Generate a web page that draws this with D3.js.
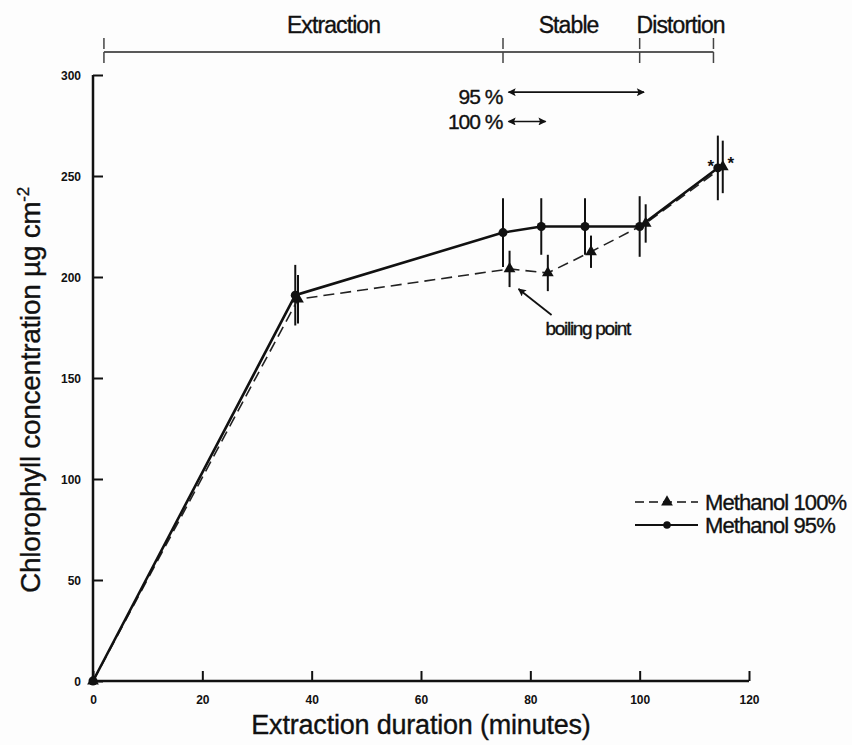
<!DOCTYPE html>
<html>
<head>
<meta charset="utf-8">
<script src="https://cdn.jsdelivr.net/npm/d3@7"></script>
<style>
	body { margin: 0; background: #fdfdfd; }
	text { font-family: "Liberation Sans", Arial, sans-serif; fill: #111; }
	.big { stroke: #111; stroke-width: 0.35px; }
</style>
</head>
<body>
<script>
// datos
var times95 = [0, 37, 75, 82, 90, 100, 114.3]
var values95 = [0, 191, 222, 225, 225, 225, 254]
var errors95 = [0, 15, 17, 14, 14, 15, 16]

var times100 = [0, 37.5, 76.2, 83.2, 91.1, 101.1, 115.2]
var values100 = [0, 189, 204, 202, 212.5, 226.5, 254.5]
var errors100 = [0, 12, 9, 9, 8, 9.5, 13]

var xTicks = [0, 20, 40, 60, 80, 100, 120]
var yTicks = [0, 50, 100, 150, 200, 250, 300]

// fases arriba del grafico
var phaseBounds = [2, 75, 100, 113.5]
var phaseNames = ["Extraction", "Stable", "Distortion"]
var phaseCenters = [44, 87, 107.5]

// flechas de rango estable
var rangeLabels = ["95 %", "100 %"]
var rangeStart = [76, 76]
var rangeEnd = [100.8, 82.8]
var rangeLevel = [291.5, 277]

var seriesNames = ["Methanol 100%", "Methanol 95%"]

var chart = {}
chart.w = 852
chart.h = 745

chart.x = d3.scaleLinear().domain([0, 120]).range([93, 749])
chart.y = d3.scaleLinear().domain([0, 300]).range([681, 75])

chart.svg = d3.select("body").append("svg")
	.attr("width", chart.w)
	.attr("height", chart.h)

var svg = chart.svg

// marcador de flecha
var defs = svg.append("defs")
defs.append("marker")
	.attr("id", "head")
	.attr("viewBox", "0 0 10 10")
	.attr("refX", 9).attr("refY", 5)
	.attr("markerWidth", 12).attr("markerHeight", 8)
	.attr("markerUnits", "userSpaceOnUse")
	.attr("orient", "auto-start-reverse")
	.append("path")
	.attr("d", "M0,0 L10,5 L0,10 L2,5 Z")
	.attr("fill", "#111")

// ejes
var xAxis = d3.axisBottom(chart.x).tickValues(xTicks).tickSize(-10).tickSizeOuter(0).tickPadding(14)
var yAxis = d3.axisLeft(chart.y).tickValues(yTicks).tickSize(-10).tickSizeOuter(0).tickPadding(12)

var gx = svg.append("g").attr("transform", "translate(0," + chart.y(0) + ")").call(xAxis)
var gy = svg.append("g").attr("transform", "translate(" + chart.x(0) + ",0)").call(yAxis)

gx.select(".domain").remove()
gy.select(".domain").remove()
svg.append("line")
	.attr("x1", chart.x(0)).attr("x2", chart.x(120))
	.attr("y1", chart.y(0)).attr("y2", chart.y(0))
	.attr("stroke", "#111").attr("stroke-width", 2.5)
svg.append("line")
	.attr("x1", chart.x(0)).attr("x2", chart.x(0))
	.attr("y1", chart.y(0)).attr("y2", chart.y(300))
	.attr("stroke", "#111").attr("stroke-width", 2.5)

;[gx, gy].forEach(function(g) {
	g.selectAll(".tick line").attr("stroke", "#111").attr("stroke-width", 2)
	g.selectAll(".tick text")
		.style("font-size", "12px")
		.style("font-weight", "bold")
		.attr("fill", "#111")
})
gy.selectAll(".tick text").attr("dy", "0.35em")

// titulos de los ejes
svg.append("text")
	.attr("class", "big")
	.attr("x", (chart.x(0) + chart.x(120)) / 2)
	.attr("y", 734)
	.attr("text-anchor", "middle")
	.style("font-size", "27px")
	.style("letter-spacing", "-0.2px")
	.text("Extraction duration (minutes)")

var yTitle = svg.append("text")
	.attr("class", "big")
	.attr("transform", "translate(40,390) rotate(-90)")
	.attr("text-anchor", "middle")
	.style("font-size", "28px")
	.style("letter-spacing", "-0.3px")
yTitle.append("tspan").text("Chlorophyll concentration µg cm")
yTitle.append("tspan").attr("dy", -11).style("font-size", "17px").text("-2")

// barra de fases
var barY = 52
svg.append("line")
	.attr("x1", chart.x(phaseBounds[0])).attr("x2", chart.x(phaseBounds[phaseBounds.length - 1]))
	.attr("y1", barY).attr("y2", barY)
	.attr("stroke", "#222").attr("stroke-width", 1.5)
svg.selectAll(".phaseTick")
	.data(phaseBounds)
	.enter()
	.append("line")
	.attr("x1", function(d) { return chart.x(d) })
	.attr("x2", function(d) { return chart.x(d) })
	.attr("y1", barY - 14).attr("y2", barY + 14)
	.attr("stroke", "#444").attr("stroke-width", 1.5)
	.attr("stroke-dasharray", "11,3")
svg.selectAll(".phaseName")
	.data(phaseNames)
	.enter()
	.append("text")
	.attr("class", "big")
	.attr("x", function(d, i) { return chart.x(phaseCenters[i]) })
	.attr("y", 33)
	.attr("text-anchor", "middle")
	.style("font-size", "23px")
	.style("letter-spacing", "-0.9px")
	.text(function(d) { return d })

// flechas 95 % y 100 %
var rangeTextY = [104, 129]
rangeLabels.forEach(function(lab, i) {
	var yy = chart.y(rangeLevel[i])
	svg.append("line")
		.attr("x1", chart.x(rangeStart[i])).attr("x2", chart.x(rangeEnd[i]))
		.attr("y1", yy).attr("y2", yy)
		.attr("stroke", "#111").attr("stroke-width", 1.6)
		.attr("marker-start", "url(#head)")
		.attr("marker-end", "url(#head)")
	svg.append("text")
		.attr("class", "big")
		.attr("x", chart.x(rangeStart[i]) - 6)
		.attr("y", rangeTextY[i])
		.attr("text-anchor", "end")
		.style("font-size", "21px")
		.style("letter-spacing", "-1px")
		.text(lab)
})

// armar las series
function makeSeries(ts, vs, es) {
	return ts.map(function(t, i) { return { t: t, v: vs[i], e: es[i] } })
}
var s100 = makeSeries(times100, values100, errors100)
var s95 = makeSeries(times95, values95, errors95)

var line = d3.line()
	.x(function(d) { return chart.x(d.t) })
	.y(function(d) { return chart.y(d.v) })

// barras de error
function drawErrors(data, cls) {
	svg.selectAll("." + cls)
		.data(data.filter(function(d) { return d.e > 0 }))
		.enter()
		.append("line")
		.attr("class", cls)
		.attr("x1", function(d) { return chart.x(d.t) })
		.attr("x2", function(d) { return chart.x(d.t) })
		.attr("y1", function(d) { return chart.y(d.v - d.e) })
		.attr("y2", function(d) { return chart.y(d.v + d.e) })
		.attr("stroke", "#111").attr("stroke-width", 2)
}
drawErrors(s100, "err100")
drawErrors(s95, "err95")

svg.append("path")
	.datum(s100)
	.attr("d", line)
	.attr("fill", "none")
	.attr("stroke", "#222").attr("stroke-width", 1.6)
	.attr("stroke-dasharray", "11,6")

svg.append("path")
	.datum(s95)
	.attr("d", line)
	.attr("fill", "none")
	.attr("stroke", "#111").attr("stroke-width", 2.6)

var tri = d3.symbol().type(d3.symbolTriangle).size(60)

svg.selectAll(".tri")
	.data(s100)
	.enter()
	.append("path")
	.attr("class", "tri")
	.attr("d", tri)
	.attr("transform", function(d) { return "translate(" + chart.x(d.t) + "," + chart.y(d.v) + ")" })
	.attr("fill", "#111")

svg.selectAll(".dot")
	.data(s95)
	.enter()
	.append("circle")
	.attr("class", "dot")
	.attr("cx", function(d) { return chart.x(d.t) })
	.attr("cy", function(d) { return chart.y(d.v) })
	.attr("r", 4.5)
	.attr("fill", "#111")

// asteriscos en los ultimos puntos
var last95 = s95[s95.length - 1]
var last100 = s100[s100.length - 1]
svg.append("text")
	.attr("x", chart.x(last95.t) - 7)
	.attr("y", chart.y(last95.v) + 4)
	.attr("text-anchor", "middle")
	.style("font-size", "17px").style("font-weight", "bold")
	.text("*")
svg.append("text")
	.attr("x", chart.x(last100.t) + 8)
	.attr("y", chart.y(last100.v) + 2)
	.attr("text-anchor", "middle")
	.style("font-size", "17px").style("font-weight", "bold")
	.text("*")

// punto de ebullicion
var bp = s100[2]
svg.append("line")
	.attr("x1", chart.x(bp.t) + 42).attr("x2", chart.x(bp.t) + 9)
	.attr("y1", chart.y(bp.v) + 46).attr("y2", chart.y(bp.v) + 20)
	.attr("stroke", "#111").attr("stroke-width", 1.8)
	.attr("marker-end", "url(#head)")
svg.append("text")
	.attr("class", "big")
	.attr("x", chart.x(bp.t) + 36)
	.attr("y", chart.y(bp.v) + 66)
	.style("font-size", "19px")
	.style("letter-spacing", "-1.3px")
	.text("boiling point")

// leyenda
var legY = [502, 525]
var leg = svg.selectAll(".leg")
	.data(seriesNames)
	.enter()
	.append("g")
	.attr("transform", function(d, i) { return "translate(0," + legY[i] + ")" })
leg.append("line")
	.attr("x1", 635).attr("x2", 698)
	.attr("stroke", "#111")
	.attr("stroke-width", function(d, i) { return i == 0 ? 1.6 : 2 })
	.attr("stroke-dasharray", function(d, i) { return i == 0 ? "9,5" : null })
leg.append("path")
	.attr("d", function(d, i) {
		return i == 0 ? tri() : d3.symbol().type(d3.symbolCircle).size(45)()
	})
	.attr("transform", "translate(667,0)")
	.attr("fill", "#111")
leg.append("text")
	.attr("class", "big")
	.attr("x", 705)
	.attr("y", 8)
	.style("font-size", "22px")
	.style("letter-spacing", "-0.9px")
	.text(function(d) { return d })
</script>
</body>
</html>
